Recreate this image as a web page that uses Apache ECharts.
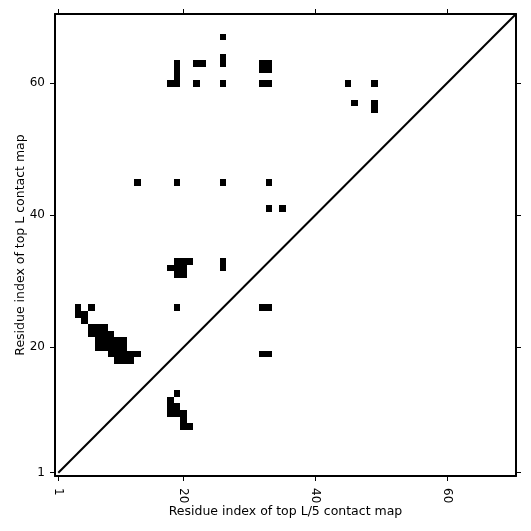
<!DOCTYPE html>
<html>
<head>
<meta charset="utf-8">
<script src="https://cdn.jsdelivr.net/npm/echarts@6/dist/echarts.min.js"></script>
<style>
  html, body { margin: 0; padding: 0; background: #fff; }
  #main { width: 531px; height: 531px; }
</style>
</head>
<body>
<div id="main"></div>
<script>
// residue range of the map (L = 70)
var axisMin = 0.5;
var axisMax = 70.5;
var tickValues = [1, 20, 40, 60];

// predicted contacts [residue i (x), residue j (y)]
var contactsLow = [
    [4, 26], [6, 26], [4, 25], [5, 25], [5, 24],
    [6, 23], [7, 23], [8, 23],
    [6, 22], [7, 22], [8, 22], [9, 22],
    [7, 21], [8, 21], [9, 21], [10, 21], [11, 21],
    [7, 20], [8, 20], [9, 20], [10, 20], [11, 20],
    [9, 19], [10, 19], [11, 19], [12, 19], [13, 19],
    [10, 18], [11, 18], [12, 18]
];
var contactsMid = [
    [19, 33], [20, 33], [21, 33], [18, 32], [19, 32], [20, 32], [19, 31], [20, 31],
    [26, 33], [26, 32], [19, 26], [32, 26], [33, 26], [32, 19], [33, 19],
    [19, 13], [18, 12], [18, 11], [19, 11], [18, 10], [19, 10], [20, 10],
    [20, 9], [20, 8], [21, 8]
];
var contactsHigh = [
    [13, 45], [19, 45], [26, 45], [33, 45], [33, 41], [35, 41],
    [26, 67], [26, 64], [26, 63], [19, 63], [19, 62], [19, 61], [18, 60], [19, 60],
    [22, 63], [23, 63], [22, 60], [26, 60],
    [32, 63], [33, 63], [32, 62], [33, 62], [32, 60], [33, 60],
    [45, 60], [49, 60], [46, 57], [49, 57], [49, 56]
];
var diagonal = [[1, 1], [70.5, 70.5]];

var font = 'DejaVu Sans';

// snap cell edges to whole pixels so neighbouring cells join without seams
function renderCell(params, api) {
    var i = api.value(0), j = api.value(1);
    var p0 = api.coord([i - 0.5, j + 0.5]);
    var p1 = api.coord([i + 0.5, j - 0.5]);
    var x0 = Math.round(p0[0]), y0 = Math.round(p0[1]);
    var x1 = Math.round(p1[0]), y1 = Math.round(p1[1]);
    return {
        type: 'rect',
        shape: { x: x0, y: y0, width: x1 - x0, height: y1 - y0 },
        style: { fill: '#000' }
    };
}

function makeAxis(pos, main, name) {
    var ax = {
        type: 'value',
        position: pos,
        min: axisMin,
        max: axisMax,
        splitLine: { show: false },
        axisLine: { show: true, onZero: false, lineStyle: { color: '#000', width: 2 } },
        axisTick: { show: true, customValues: tickValues, length: 5, lineStyle: { color: '#000', width: 1 } },
        axisLabel: { show: main, customValues: tickValues, color: '#000', fontFamily: font, fontSize: 12 }
    };
    if (main) {
        ax.name = name;
        ax.nameLocation = 'middle';
        ax.nameMoveOverlap = false;
        ax.nameTextStyle = { color: '#000', fontFamily: font, fontSize: 12.5 };
    }
    return ax;
}

var chart = echarts.init(document.getElementById('main'), null, { renderer: 'canvas' });

var xBottom = makeAxis('bottom', true, 'Residue index of top L/5 contact map');
xBottom.axisLabel.rotate = -90;
xBottom.axisLabel.margin = 12;
xBottom.nameGap = 29;
var yLeft = makeAxis('left', true, 'Residue index of top L contact map');
yLeft.axisLabel.margin = 10;
yLeft.nameGap = 28;

var option = {
    animation: false,
    backgroundColor: '#fff',
    grid: { left: 55, right: 15, top: 14, bottom: 55, show: false },
    xAxis: [xBottom, makeAxis('top', false)],
    yAxis: [yLeft, makeAxis('right', false)],
    series: [
        {
            type: 'custom',
            renderItem: renderCell,
            encode: { x: 0, y: 1 },
            data: contactsLow.concat(contactsMid, contactsHigh)
        },
        {
            type: 'line',
            data: diagonal,
            symbol: 'none',
            lineStyle: { color: '#000', width: 2 },
            clip: true
        }
    ]
};

chart.setOption(option);
</script>
</body>
</html>
